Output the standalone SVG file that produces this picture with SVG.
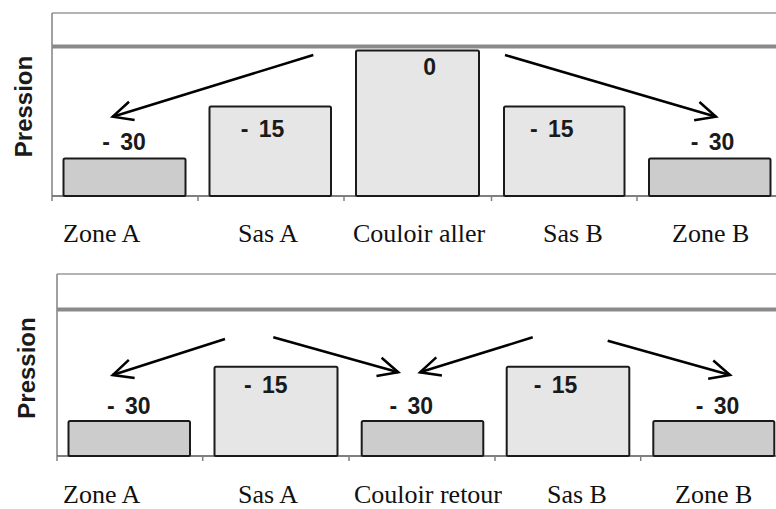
<svg xmlns="http://www.w3.org/2000/svg" width="776" height="509" viewBox="0 0 776 509">
<style>
.bg{fill:#ffffff}
.thin{stroke:#9a9a9a;stroke-width:1.5;fill:none}
.thick{stroke:#8a8a8a;stroke-width:4;fill:none}
.axis{stroke:#808080;stroke-width:1.5;fill:none}
.base{stroke:#555555;stroke-width:1.5;fill:none}
.tick{stroke:#808080;stroke-width:1.5}
.dark{fill:#cccccc;stroke:#1a1a1a;stroke-width:2}
.light{fill:#e6e6e6;stroke:#1a1a1a;stroke-width:2}
.val{font-family:"Liberation Sans",Arial,sans-serif;font-weight:bold;font-size:23px;fill:#1a1a1a;text-anchor:middle;word-spacing:4px}
.cat{font-family:"Liberation Serif","Times New Roman",serif;font-size:26px;fill:#111111}
.yl{font-family:"Liberation Sans",Arial,sans-serif;font-weight:bold;font-size:24px;fill:#1a1a1a;text-anchor:middle}
.arr{stroke:#000000;stroke-width:2.5;fill:none;marker-end:url(#head)}
</style>
<defs>
<marker id="head" markerUnits="userSpaceOnUse" markerWidth="30" markerHeight="30" viewBox="-25 -15 30 30" refX="0" refY="0" orient="auto">
<path d="M-20,-9.5 L0,0 L-20,9.5" fill="none" stroke="#000000" stroke-width="2.5" stroke-linejoin="miter"/>
</marker>
</defs>
<rect class="bg" x="0" y="0" width="776" height="509"/>

<g id="frame-top">
<line class="thin" x1="52" y1="13" x2="776" y2="13"/>
<line class="axis" x1="52" y1="13" x2="52" y2="196"/>
<line class="thick" x1="52" y1="46.5" x2="776" y2="46.5"/>
<line class="base" x1="52" y1="196" x2="776" y2="196"/>
<line class="tick" x1="52" y1="196" x2="52" y2="201"/>
<line class="tick" x1="198" y1="196" x2="198" y2="201"/>
<line class="tick" x1="344" y1="196" x2="344" y2="201"/>
<line class="tick" x1="491.5" y1="196" x2="491.5" y2="201"/>
<line class="tick" x1="637" y1="196" x2="637" y2="201"/>
<text class="yl" transform="translate(31.5,106.5) rotate(-90)">Pression</text>
</g>

<g id="top-zone-a"><rect class="dark" x="63.5" y="158.5" width="122" height="37.5" rx="1.5"/><text class="val" x="124" y="150">- 30</text></g>
<g id="top-sas-a"><rect class="light" x="209.5" y="106.5" width="121.5" height="89.5" rx="1.5"/><text class="val" x="262.5" y="137">- 15</text></g>
<g id="top-couloir-aller"><rect class="light" x="356" y="50.5" width="123" height="145.5" rx="1.5"/><text class="val" x="429.7" y="75">0</text></g>
<g id="top-sas-b"><rect class="light" x="504" y="106.5" width="120.5" height="89.5" rx="1.5"/><text class="val" x="551.8" y="136.5">- 15</text></g>
<g id="top-zone-b"><rect class="dark" x="649" y="158.5" width="121.5" height="37.5" rx="1.5"/><text class="val" x="712.5" y="150">- 30</text></g>

<g id="top-labels">
<text class="cat" x="63" y="242">Zone A</text>
<text class="cat" x="238" y="242">Sas A</text>
<text class="cat" x="353" y="242">Couloir aller</text>
<text class="cat" x="543" y="242">Sas B</text>
<text class="cat" x="672" y="242">Zone B</text>
</g>

<g id="frame-bottom">
<line class="thin" x1="57" y1="274" x2="776" y2="274"/>
<line class="axis" x1="57" y1="274" x2="57" y2="456"/>
<line class="thick" x1="57" y1="309.5" x2="776" y2="309.5"/>
<line class="base" x1="57" y1="456" x2="776" y2="456"/>
<line class="tick" x1="57" y1="456" x2="57" y2="461"/>
<line class="tick" x1="202.7" y1="456" x2="202.7" y2="461"/>
<line class="tick" x1="349" y1="456" x2="349" y2="461"/>
<line class="tick" x1="495" y1="456" x2="495" y2="461"/>
<line class="tick" x1="640.7" y1="456" x2="640.7" y2="461"/>
<text class="yl" transform="translate(35,368) rotate(-90)">Pression</text>
</g>

<g id="bot-zone-a"><rect class="dark" x="68.5" y="421" width="121.5" height="35" rx="1.5"/><text class="val" x="128.8" y="414">- 30</text></g>
<g id="bot-sas-a"><rect class="light" x="214.5" y="366.7" width="123" height="89.3" rx="1.5"/><text class="val" x="265.8" y="393">- 15</text></g>
<g id="bot-couloir-retour"><rect class="dark" x="361.7" y="421" width="121.6" height="35" rx="1.5"/><text class="val" x="411.3" y="413.5">- 30</text></g>
<g id="bot-sas-b"><rect class="light" x="506.7" y="366.7" width="122.6" height="89.3" rx="1.5"/><text class="val" x="555.5" y="393">- 15</text></g>
<g id="bot-zone-b"><rect class="dark" x="653.3" y="421" width="121" height="35" rx="1.5"/><text class="val" x="717.5" y="413.5">- 30</text></g>

<g id="bottom-labels">
<text class="cat" x="63" y="503">Zone A</text>
<text class="cat" x="238" y="503">Sas A</text>
<text class="cat" x="354" y="503">Couloir retour</text>
<text class="cat" x="547" y="503">Sas B</text>
<text class="cat" x="675" y="503">Zone B</text>
</g>

<g id="connectors">
<line class="arr" x1="313.3" y1="55" x2="112.7" y2="116.7"/>
<line class="arr" x1="505" y1="55" x2="716" y2="116.7"/>
<line class="arr" x1="225" y1="339" x2="112.7" y2="375"/>
<line class="arr" x1="273.3" y1="337.3" x2="398.3" y2="372.3"/>
<line class="arr" x1="532.7" y1="337.3" x2="420" y2="372.3"/>
<line class="arr" x1="607.7" y1="340.7" x2="730" y2="375"/>
</g>
</svg>
